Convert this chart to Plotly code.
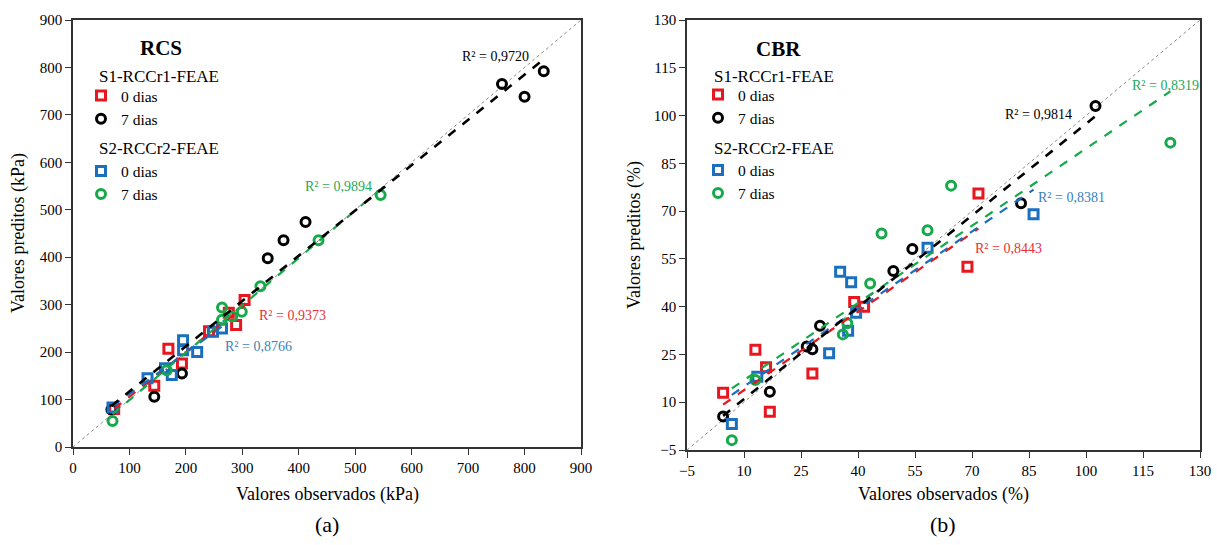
import numpy as np
import plotly.graph_objects as go

FONT = "Liberation Serif, Times New Roman, serif"
W, H = 1217, 545

# ---------------- RCS (kPa) ----------------
rcs_s1_0_obs = [73, 144, 169, 193, 241, 276, 289, 304]
rcs_s1_0_pred = [80, 129, 207, 176, 244, 283, 257, 310]
rcs_s1_7_obs = [68, 144, 193, 345, 373, 412, 760, 800, 834]
rcs_s1_7_pred = [79, 106, 155, 398, 436, 474, 765, 738, 792]
rcs_s2_0_obs = [70, 132, 163, 175, 195, 195, 220, 248, 264]
rcs_s2_0_pred = [83, 145, 166, 152, 225, 204, 200, 243, 250]
rcs_s2_7_obs = [70, 166, 264, 264, 282, 299, 332, 435, 545]
rcs_s2_7_pred = [55, 162, 294, 268, 275, 285, 339, 436, 531]
rcs_r2 = ["0,9373", "0,9720", "0,8766", "0,9894"]
rcs_ticks = list(range(0, 901, 100))

# ---------------- CBR (%) ----------------
cbr_s1_0_obs = [4.5, 13, 15.8, 16.8, 28, 39, 41.6, 68.8, 71.7]
cbr_s1_0_pred = [13, 26.5, 21, 7, 19, 41.5, 40, 52.5, 75.5]
cbr_s1_7_obs = [4.5, 16.8, 26.5, 28, 30, 49.3, 54.3, 82.9, 102.5]
cbr_s1_7_pred = [5.5, 13.3, 27.5, 26.6, 34, 51.2, 58.1, 72.5, 103]
cbr_s2_0_obs = [6.8, 13.5, 32.4, 35.3, 37.4, 38.2, 39.5, 58.3, 86.2]
cbr_s2_0_pred = [3.2, 18, 25.4, 51, 32.4, 47.7, 38.1, 58.5, 69]
cbr_s2_7_obs = [6.8, 13, 36, 37.2, 43.2, 46.2, 58.3, 64.5, 122.2]
cbr_s2_7_pred = [-1.9, 17, 31.3, 34.8, 47.3, 63, 64, 78, 91.5]
cbr_r2 = ["0,8443", "0,9814", "0,8381", "0,8319"]
cbr_ticks = list(range(-5, 131, 15))

series_names = ["0 dias", "7 dias", "0 dias", "7 dias"]
groups = ["S1", "S1", "S2", "S2"]
colors = ["#E8161E", "#000000", "#1A6FBF", "#16A94A"]
label_colors = ["#E8303A", "#000000", "#3A7FC0", "#1FA85A"]
symbols = ["square-open", "circle-open", "square-open", "circle-open"]

fig = go.Figure()

def add_panel(xs, ys, xa, ya, legend, rng, r2s, r2pos):
    # 1:1 reference line
    fig.add_trace(go.Scatter(x=rng, y=rng, mode="lines", xaxis=xa, yaxis=ya,
                             line=dict(color="#8A8A8A", width=1, dash="dot"),
                             showlegend=False, hoverinfo="skip"))
    for i in range(4):
        x = np.array(xs[i], dtype=float)
        y = np.array(ys[i], dtype=float)
        fig.add_trace(go.Scatter(
            x=x, y=y, mode="markers", xaxis=xa, yaxis=ya,
            name=series_names[i], legendgroup=groups[i], legend=legend,
            marker=dict(symbol=symbols[i], size=9, color=colors[i],
                        line=dict(width=3, color=colors[i]))))
    for i in [0, 2, 3, 1]:
        x = np.array(xs[i], dtype=float)
        y = np.array(ys[i], dtype=float)
        k, b = np.polyfit(x, y, 1)
        xl = np.array([x.min(), x.max()])
        fig.add_trace(go.Scatter(
            x=xl, y=k * xl + b, mode="lines", xaxis=xa, yaxis=ya,
            line=dict(color=colors[i], width=2.6 if i == 1 else 2.2, dash="dash"),
            showlegend=False, hoverinfo="skip"))
    for i in range(4):
        fig.add_annotation(x=r2pos[i][0], y=r2pos[i][1], xref=xa, yref=ya,
                           showarrow=False, text="R² = " + r2s[i],
                           xanchor="center", yanchor="middle",
                           font=dict(family=FONT, size=14, color=label_colors[i]))

add_panel([rcs_s1_0_obs, rcs_s1_7_obs, rcs_s2_0_obs, rcs_s2_7_obs],
          [rcs_s1_0_pred, rcs_s1_7_pred, rcs_s2_0_pred, rcs_s2_7_pred],
          "x", "y", "legend", [0, 900], rcs_r2,
          [(389, 278), (749, 824), (328, 211), (470, 550)])
add_panel([cbr_s1_0_obs, cbr_s1_7_obs, cbr_s2_0_obs, cbr_s2_7_obs],
          [cbr_s1_0_pred, cbr_s1_7_pred, cbr_s2_0_pred, cbr_s2_7_pred],
          "x2", "y2", "legend2", [-5, 130], cbr_r2,
          [(79.5, 58.4), (87.6, 100.2), (96.3, 74.4), (120.8, 109.3)])

axis_common = dict(showline=True, linecolor="#333333", linewidth=1.5, mirror=True,
                   ticks="outside", ticklen=6, tickwidth=1.3, tickcolor="#333333",
                   showgrid=False, zeroline=False, automargin=False,
                   tickfont=dict(family=FONT, size=15, color="#000000"))

legend_common = dict(xanchor="left", yanchor="top", bgcolor="rgba(0,0,0,0)",
                     tracegroupgap=29, traceorder="grouped", itemwidth=30,
                     font=dict(family=FONT, size=15.5, color="#000000"))

fig.update_layout(
    template="none",
    width=W, height=H, margin=dict(l=0, r=0, t=0, b=0, pad=0),
    plot_bgcolor="white", paper_bgcolor="white",
    font=dict(family=FONT, color="#000000"),
    xaxis=dict(domain=[73 / W, 581 / W], range=[0, 900], tickvals=rcs_ticks,
               anchor="y", **axis_common),
    yaxis=dict(domain=[1 - 447 / H, 1 - 20 / H], range=[0, 900], tickvals=rcs_ticks,
               anchor="x", **axis_common),
    xaxis2=dict(domain=[687 / W, 1200 / W], range=[-5, 130], tickvals=cbr_ticks,
                anchor="y2", **axis_common),
    yaxis2=dict(domain=[1 - 450 / H, 1 - 20 / H], range=[-5, 130], tickvals=cbr_ticks,
                anchor="x2", **axis_common),
    legend=dict(x=81 / W, y=1 - 79 / H, **legend_common),
    legend2=dict(x=698 / W, y=1 - 78 / H, **legend_common),
)

def ann(x, y, text, size, xanchor="center", **kw):
    fig.add_annotation(x=x / W, y=1 - y / H, xref="paper", yref="paper", text=text,
                       showarrow=False, xanchor=xanchor, yanchor="middle",
                       font=dict(family=FONT, size=size, color="#000000"), **kw)

ann(161, 48, "<b>RCS</b>", 21)
ann(778, 49, "<b>CBR</b>", 21)
ann(97, 76, "S1-RCCr1-FEAE", 17, xanchor="left")
ann(97, 148, "S2-RCCr2-FEAE", 17, xanchor="left")
ann(712, 76, "S1-RCCr1-FEAE", 17, xanchor="left")
ann(712, 148, "S2-RCCr2-FEAE", 17, xanchor="left")
ann(327, 494, "Valores observados (kPa)", 18)
ann(19, 233, "Valores preditos (kPa)", 18, textangle=-90)
ann(943, 494, "Valores observados (%)", 18)
ann(634, 235, "Valores preditos (%)", 18, textangle=-90)
ann(327, 524, "(a)", 22)
ann(943, 524, "(b)", 22)

fig.write_html("out.html")
